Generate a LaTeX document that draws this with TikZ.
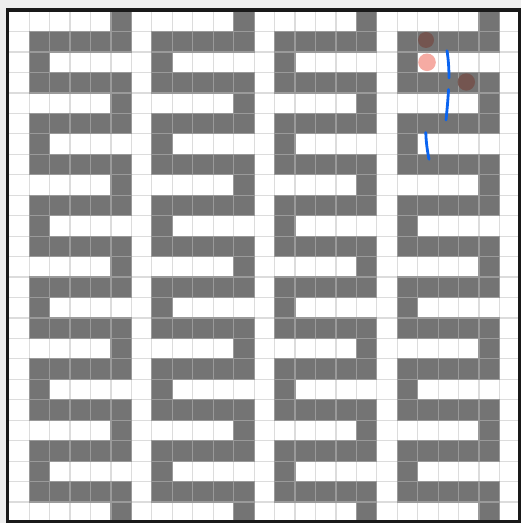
\documentclass[tikz,border=0pt]{standalone}
\usepackage{xcolor}
\definecolor{pagebg}{HTML}{EEEEEE}
\definecolor{wallfill}{HTML}{747474}
\definecolor{wallline}{HTML}{9A9A9A}
\definecolor{gridline}{HTML}{DCDCDC}
\definecolor{markdark}{HTML}{74504A}
\definecolor{marklight}{HTML}{F6ABA3}
\definecolor{pathblue}{HTML}{0A64F0}
\tikzset{
  opencell/.style = {fill=white, draw=gridline, line width=0.6pt},
  wallcell/.style = {fill=wallfill, draw=wallline, line width=0.6pt},
  frame/.style    = {draw=black!90, line width=1.75pt},
  visited/.style  = {fill=markdark, fill opacity=0.85},
  current/.style  = {fill=marklight},
  trace/.style    = {draw=pathblue, line width=1.4pt, line cap=round}
}

\begin{document}
\begin{tikzpicture}[x=0.5pt, y=-0.5pt]
\useasboundingbox (0,0) rectangle (521,523);
\fill[pagebg] (0,0) rectangle (521,523);
\begin{scope}[shift={(8.7,11.2)}, x=10.225pt, y=-10.225pt]
\foreach \c in {0,...,24}
  \foreach \r in {0,...,24}
    \path[opencell] (\c,\r) rectangle ++(1,1);
\foreach \c in {0,...,24}
  \foreach \r in {0,...,24} {
    \pgfmathtruncatemacro\b{mod(\c,6)}
    \pgfmathtruncatemacro\q{mod(\r,4)}
    \pgfmathtruncatemacro\iswall{(\b>0) && (\q==1 || \q==3 || (\q==2 && \b==1) || (\q==0 && \b==5))}
    \ifnum\iswall=1
      \path[wallcell] (\c,\r) rectangle ++(1,1);
    \fi
  }
\end{scope}
\draw[frame] (7.5,10) rectangle (519.5,521.5);
\fill[visited] (426,40) circle (8);
\fill[current] (427,62.3) circle (8.8);
\fill[visited] (466.3,82) circle (8.7);
\draw[trace] (447,50.7) .. controls (448.5,60) and (449,70) .. (449,78);
\draw[trace] (448.5,89.5) .. controls (448,100) and (447,110) .. (446,120);
\draw[trace] (425.8,132.5) .. controls (426,142) and (427.5,152) .. (429,159.3);
\end{tikzpicture}
\end{document}
